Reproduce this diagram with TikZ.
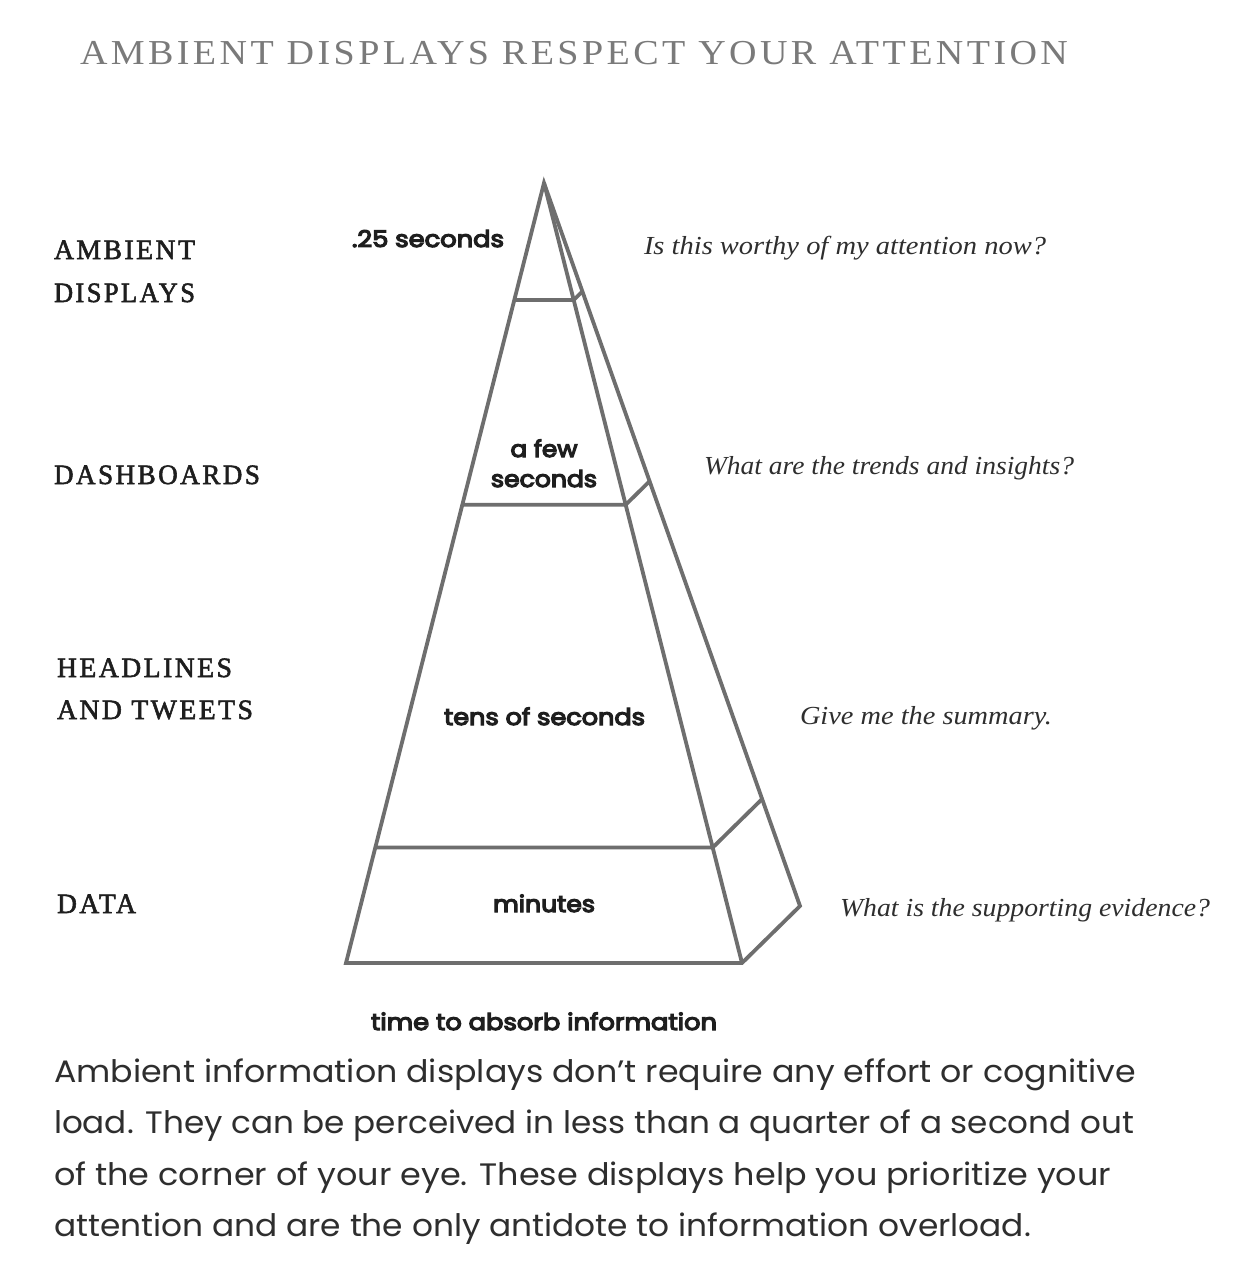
\documentclass[tikz,border=0pt]{standalone}
\usepackage{fontspec}
\usepackage{graphicx}
\usetikzlibrary{calc}
\setmainfont{Liberation Serif}
\newfontfamily\capsfont[LetterSpace=9]{Liberation Serif}
\newfontfamily\lvlfont[LetterSpace=9,FakeBold=2]{Liberation Serif}
\newfontfamily\sansfont{Poppins}
\newfontfamily\sansmed[FakeBold=5]{Poppins}
\newcommand\fitw[2]{\resizebox{#1pt}{\height}{#2}}
\definecolor{pyrgray}{HTML}{6E6E6E}
\definecolor{titlegray}{HTML}{7A7A7A}
\definecolor{ink}{HTML}{1E1E1E}
\definecolor{bodyink}{HTML}{2E2E2E}
\begin{document}
\begin{tikzpicture}[x=1pt,y=-1pt,
  every node/.style={inner sep=0pt,outer sep=0pt},
  ttl/.style={anchor=base west,text=titlegray,font=\capsfont\fontsize{35pt}{35pt}\selectfont},
  lvl/.style={anchor=base west,text=ink,font=\lvlfont\fontsize{28pt}{28pt}\selectfont},
  tim/.style={anchor=base,text=ink,font=\sansmed\fontsize{23pt}{23pt}\selectfont},
  qst/.style={anchor=base west,text=bodyink,font=\itshape\fontsize{26pt}{26pt}\selectfont},
  body/.style={anchor=base west,text=bodyink,font=\sansfont\fontsize{31pt}{31pt}\selectfont},
  pyr/.style={draw=pyrgray,line width=3.8pt,line join=miter}]
\useasboundingbox[fill=white] (0,0) rectangle (1244,1272);

% title
\node[ttl] (title) at (80,64) {\fitw{988}{AMBIENT DISPLAYS RESPECT YOUR ATTENTION}};

% pyramid
\coordinate (A) at (544,183);
\coordinate (BL) at (346,963);
\coordinate (BR) at (742,963);
\coordinate (K) at (800,906);
\draw[pyr] (A) -- (BL) -- (BR) -- (K) -- cycle;
\draw[pyr] (A) -- (BR);
\foreach \f in {0.15,0.4125,0.852}{
  \draw[pyr] ($(A)!\f!(BL)$) -- ($(A)!\f!(BR)$) -- ($(A)!\f!(K)$);
}

% level labels
\node[lvl] (l1a) at (54,259) {\fitw{141}{AMBIENT}};
\node[lvl] (l1b) at (54,302) {\fitw{141}{DISPLAYS}};
\node[lvl] (l2) at (54,484) {\fitw{206}{DASHBOARDS}};
\node[lvl] (l3a) at (57,677) {\fitw{175}{HEADLINES}};
\node[lvl] (l3b) at (57,719) {\fitw{196}{AND TWEETS}};
\node[lvl] (l4) at (57,913) {\fitw{79}{DATA}};

% times
\node[tim] (t1) at (428,247) {\fitw{152}{.25 seconds}};
\node[tim] (t2a) at (544,457) {\fitw{67}{a few}};
\node[tim] (t2b) at (544,487) {\fitw{106}{seconds}};
\node[tim] (t3) at (544.5,725) {\fitw{201}{tens of seconds}};
\node[tim] (t4) at (544,912) {\fitw{102}{minutes}};
\node[tim] (axis) at (544,1030) {\fitw{346}{time to absorb information}};

% questions
\node[qst] (q1) at (644,254) {\fitw{402}{Is this worthy of my attention now?}};
\node[qst] (q2) at (704,474) {\fitw{370}{What are the trends and insights?}};
\node[qst] (q3) at (800,724) {\fitw{252}{Give me the summary.}};
\node[qst] (q4) at (840,916) {\fitw{370}{What is the supporting evidence?}};

% body text
\node[body] (b1) at (54,1082) {\fitw{1082}{Ambient information displays don’t require any effort or cognitive}};
\node[body] (b2) at (54,1133) {\fitw{1080}{load. They can be perceived in less than a quarter of a second out}};
\node[body] (b3) at (54,1185) {\fitw{1057}{of the corner of your eye. These displays help you prioritize your}};
\node[body] (b4) at (54,1236) {\fitw{977}{attention and are the only antidote to information overload.}};
\end{tikzpicture}
\end{document}
